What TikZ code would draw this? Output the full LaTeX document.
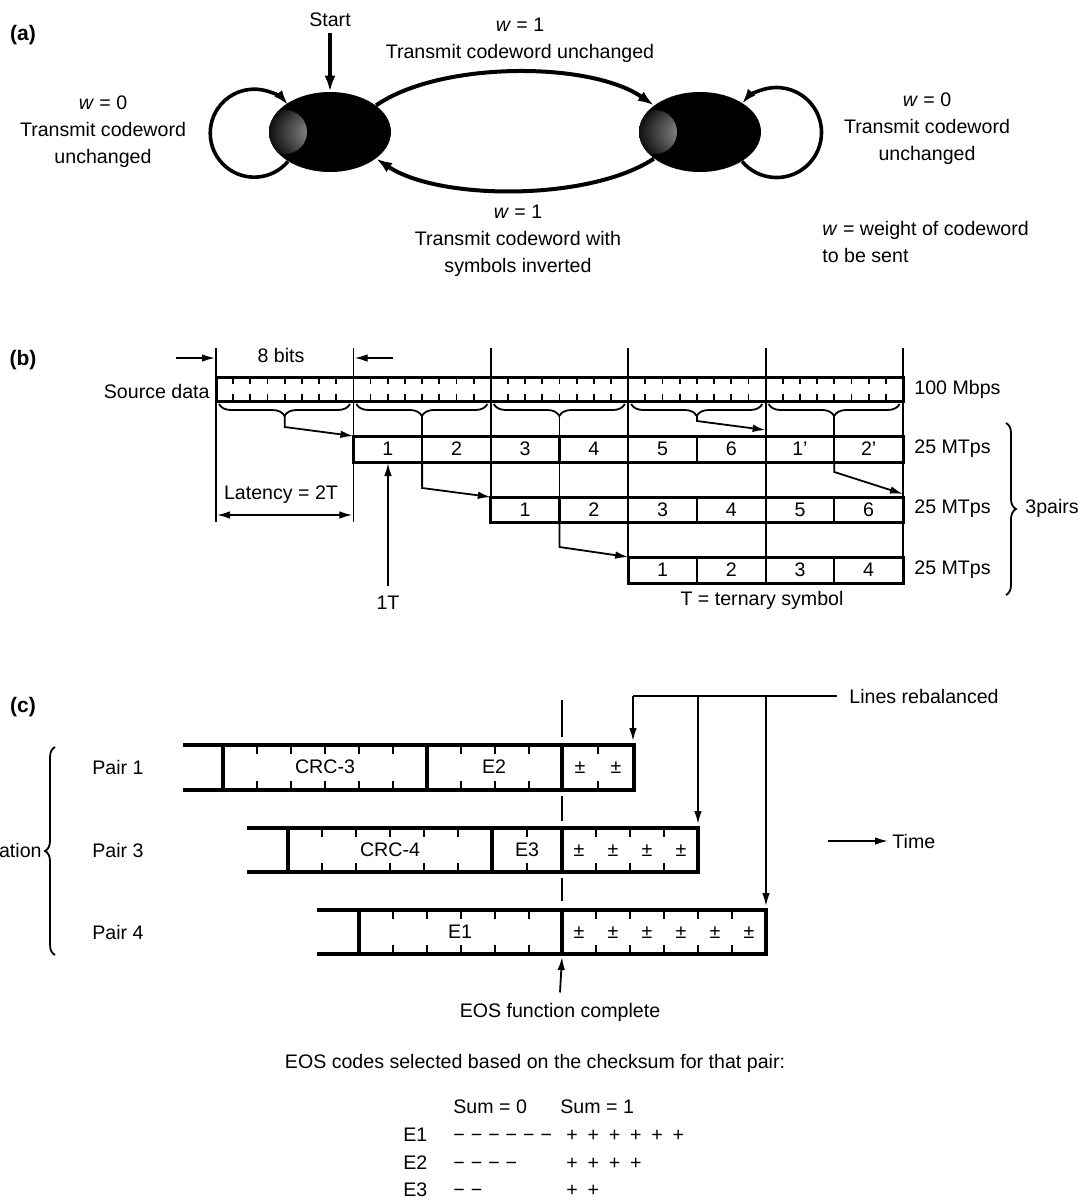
\documentclass[tikz,border=0pt]{standalone}
\usepackage{fontspec}
\setmainfont{Liberation Sans}
\usetikzlibrary{arrows.meta,shapes.geometric,decorations.pathreplacing}

\begin{document}
\begin{tikzpicture}[x=0.5pt, y=-0.5pt,
    every node/.style={font=\fontsize{9.8pt}{13.5pt}\selectfont, inner sep=0pt},
    partlbl/.style={font=\bfseries\fontsize{10.5pt}{12pt}\selectfont},
    state/.style={ellipse, minimum width=61pt, minimum height=40pt, fill=black,
      path picture={\shade[inner color=gray!55, outer color=black]
        ([xshift=8pt]path picture bounding box.west) circle (11pt);}},
    arcline/.style={line width=2pt, -{Latex[length=8pt,width=5.5pt]}},
    loopline/.style={line width=1.8pt, -{Latex[length=7.5pt,width=5pt]}},
    thinarrow/.style={line width=0.9pt, -{Latex[length=6.5pt,width=3.8pt]}},
    rowbox/.style={line width=1.5pt},
    celldiv/.style={line width=1.1pt},
    guide/.style={line width=0.9pt},
    bitline/.style={line width=0.9pt},
    octbrace/.style={line width=0.9pt, decorate, decoration={brace, amplitude=6pt}},
    pairbox/.style={line width=1.6pt},
    tickline/.style={line width=1.1pt},
    tabcell/.style={anchor=base west}
  ]
  \useasboundingbox (0,0) rectangle (1085,1200);

  % ---------------- (a) state diagram
  \node[partlbl] (pa) at (23,35) {(a)};
  \node[state] (sA) at (330,132) {};
  \node[state] (sB) at (700,132) {};
  \node (start) at (330,20) {Start};
  \draw[arcline] ([yshift=-3pt]start.south) -- (sA.north);

  \draw[arcline] (sA.30) .. controls (440,61) and (590,61) .. (sB.150);
  \draw[arcline] (sB.210) .. controls (590,201) and (440,201) .. (sA.330);
  \draw[loopline] (sA.215) arc[start angle=40, end angle=320, radius=44];
  \draw[loopline] (sB.325) arc[start angle=140, end angle=-140, radius=45];

  \node[align=center] (wtop) at (520,40) {\textit{w} = 1\\Transmit codeword unchanged};
  \node[align=center] (wleft) at (103,132) {\textit{w} = 0\\Transmit codeword\\unchanged};
  \node[align=center] (wright) at (927,129) {\textit{w} = 0\\Transmit codeword\\unchanged};
  \node[align=center] (wbot) at (518,241) {\textit{w} = 1\\Transmit codeword with\\symbols inverted};
  \node[align=left, anchor=west] (wnote) at (822,242) {\textit{w} = weight of codeword\\to be sent};

  % ---------------- (b) 100 Mbps to 3 pairs
  \node[partlbl] (pb) at (23,360) {(b)};
  \foreach \x/\yb in {216/522, 353.4/522, 490.8/497, 628.2/557, 765.6/557, 903/583}
    \draw[guide] (\x,348) -- (\x,\yb);

  % source data, 5 octets of 8 bits
  \draw[rowbox] (216,377) rectangle (903,401);
  \foreach \o in {0,...,4} {
    \foreach \k in {1,...,7} {
      \draw[bitline] ({216+137.4*\o+17.175*\k},377) -- ++(0,7)
                     ({216+137.4*\o+17.175*\k},401) -- ++(0,-7);
    }
    \draw[octbrace] ({216+137.4*\o+134},404) -- ({216+137.4*\o+3},404);
  }
  \node[anchor=east] (src) at (210,391) {Source data};
  \node (bits) at (281,355) {8 bits};
  \draw[thinarrow] (176,358) -- (215,358);
  \draw[thinarrow] (393,358) -- (354.5,358);

  % brace tips to the ternary rows
  \draw[thinarrow] (284.7,416) -- (284.7,427) -- (353.4,436);
  \draw[guide] (422.1,416) -- (422.1,436);
  \draw[guide] (559.5,416) -- (559.5,436);
  \draw[thinarrow] (696.9,416) -- (696.9,421) -- (765.6,430);
  \draw[guide] (834.3,416) -- (834.3,436);
  \draw[thinarrow] (422.1,462) -- (422.1,488) -- (490.8,497);
  \draw[guide] (559.5,462) -- (559.5,497);
  \draw[thinarrow] (559.5,522) -- (559.5,547) -- (628.2,557);
  \draw[thinarrow] (834.3,462) -- (834.3,472) -- (903,494);

  % ternary symbol rows
  \draw[rowbox] (353.4,436) rectangle (903,462);
  \foreach \i in {1,...,7} \draw[celldiv] ({353.4+68.7*\i},436) -- ++(0,26);
  \foreach \lbl [count=\i from 0] in {1,2,3,4,5,6,1',2'}
    \node (ra\i) at ({387.75+68.7*\i},449) {\lbl};
  \draw[rowbox] (490.8,497) rectangle (903,522);
  \foreach \i in {1,...,5} \draw[celldiv] ({490.8+68.7*\i},497) -- ++(0,25);
  \foreach \lbl [count=\i from 0] in {1,...,6}
    \node (rb\i) at ({525.15+68.7*\i},509.5) {\lbl};
  \draw[rowbox] (628.2,557) rectangle (903,583);
  \foreach \i in {1,...,3} \draw[celldiv] ({628.2+68.7*\i},557) -- ++(0,26);
  \foreach \lbl [count=\i from 0] in {1,...,4}
    \node (rc\i) at ({662.55+68.7*\i},570) {\lbl};

  \node (lat) at (281,495) {Latency = 2T};
  \draw[guide, {Latex[length=6.5pt,width=3.8pt]}-{Latex[length=6.5pt,width=3.8pt]}] (217,515) -- (352.4,515);
  \node (oneT) at (388,603) {1T};
  \draw[thinarrow] ([yshift=5pt]oneT.north) -- (388,463);

  \node[anchor=west] (rate0) at (914,389) {100 Mbps};
  \node[anchor=west] (rate1) at (914,449) {25 MTps};
  \node[anchor=west] (rate2) at (914,509) {25 MTps};
  \node[anchor=west] (rate3) at (914,570) {25 MTps};
  \draw[guide, decorate, decoration={brace, amplitude=5pt}] (1006,423) -- (1006,595);
  \node[anchor=west] (pairs) at (1025,508) {3pairs};
  \node (tern) at (762,600) {T = ternary symbol};

  % ---------------- (c) end of stream
  \node[partlbl] (pc) at (23,707) {(c)};
  \foreach \ya/\yb in {700/737, 796/821, 878/901} \draw[guide] (562,\ya) -- (562,\yb);

  % Pair 1
  \draw[pairbox] (183,745) -- (634,745) -- (634,790) -- (183,790);
  \foreach \x in {223,427,562} \draw[pairbox] (\x,745) -- (\x,790);
  \foreach \x in {257,291,325,359,393,461,495,529,598}
    \draw[tickline] (\x,745) -- ++(0,9) (\x,790) -- ++(0,-9);
  \node (crc3) at (325,767) {CRC-3};
  \node (e2) at (494,767) {E2};
  \foreach \x [count=\i] in {580,616} \node (pma\i) at (\x,768) {±};

  % Pair 3
  \draw[pairbox] (247,828) -- (698,828) -- (698,872) -- (247,872);
  \foreach \x in {288,492,562} \draw[pairbox] (\x,828) -- (\x,872);
  \foreach \x in {322,356,390,424,458,527,596,630,664}
    \draw[tickline] (\x,828) -- ++(0,9) (\x,872) -- ++(0,-9);
  \node (crc4) at (390,850) {CRC-4};
  \node (e3) at (527,850) {E3};
  \foreach \x [count=\i] in {579,613,647,681} \node (pmb\i) at (\x,851) {±};

  % Pair 4
  \draw[pairbox] (317,910) -- (766,910) -- (766,954) -- (317,954);
  \foreach \x in {359,562} \draw[pairbox] (\x,910) -- (\x,954);
  \foreach \x in {393,427,461,495,529,596,630,664,698,732}
    \draw[tickline] (\x,910) -- ++(0,9) (\x,954) -- ++(0,-9);
  \node (e1) at (460,932) {E1};
  \foreach \x [count=\i] in {579,613,647,681,715,749} \node (pmc\i) at (\x,933) {±};

  \node[anchor=west] (p1) at (92,767) {Pair 1};
  \node[anchor=west] (p3) at (92,850) {Pair 3};
  \node[anchor=west] (p4) at (92,932) {Pair 4};
  \node[anchor=east] (ation) at (42,850) {ation};
  \draw[guide, decorate, decoration={brace, amplitude=5pt}] (55,955) -- (55,747);

  \node[anchor=west] (rebal) at (849,696) {Lines rebalanced};
  \draw[guide] ([xshift=-6pt]rebal.west) -- (633,696);
  \draw[thinarrow] (633,696) -- (633,741);
  \draw[thinarrow] (698,696) -- (698,824);
  \draw[thinarrow] (766,696) -- (766,906);

  \node[anchor=west] (time) at (892,841) {Time};
  \draw[thinarrow] (828,841) -- ([xshift=-2pt]time.west);

  \node (eos) at (560,1012) {EOS function complete};
  \draw[thinarrow] ([yshift=5pt]eos.north) -- (562,957);

  % EOS code table
  \node (eosnote) at (535,1063) {EOS codes selected based on the checksum for that pair:};
  \node[tabcell] (sum0) at (453,1113) {Sum = 0};
  \node[tabcell] (sum1) at (560,1113) {Sum = 1};
  \foreach \e/\mm/\pp/\yy in {
      E1/{−\hspace{3pt}−\hspace{3pt}−\hspace{3pt}−\hspace{3pt}−\hspace{3pt}−}/{+\enspace+\enspace+\enspace+\enspace+\enspace+}/1141,
      E2/{−\hspace{3pt}−\hspace{3pt}−\hspace{3pt}−}/{+\enspace+\enspace+\enspace+}/1169,
      E3/{−\hspace{3pt}−}/{+\enspace+}/1196} {
    \node[tabcell] (code\e) at (403,\yy) {\e};
    \node[tabcell] (zero\e) at (453,\yy) {\mm};
    \node[tabcell] (one\e) at (566,\yy) {\pp};
  }
\end{tikzpicture}
\end{document}
